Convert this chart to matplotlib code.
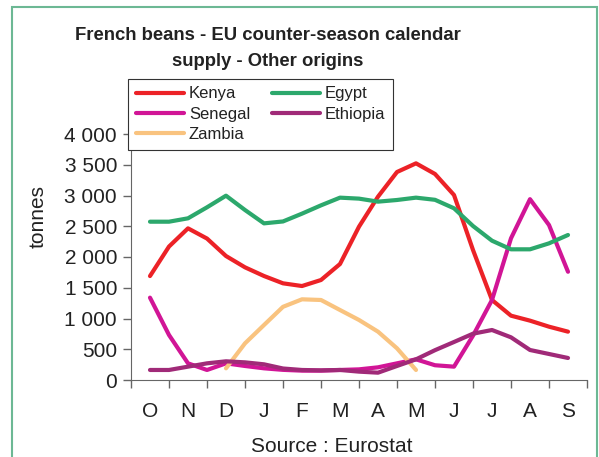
import matplotlib.pyplot as plt
from matplotlib.patches import Rectangle

plt.rcParams['font.family'] = ['Liberation Sans', 'DejaVu Sans']

# half-month positions, O centre = 0 ... S centre = 11
x_all = [i * 0.5 for i in range(23)]

months = ["O", "N", "D", "J", "F", "M", "A", "M", "J", "J", "A", "S"]

kenya = [1690, 2170, 2466, 2300, 2016, 1832, 1691, 1572, 1528, 1626, 1886, 2493,
         2981, 3382, 3523, 3350, 3008, 2114, 1301, 1046, 965, 867, 786]
egypt = [2574, 2574, 2629, 2808, 2997, 2764, 2547, 2578, 2705, 2840, 2965, 2949,
         2900, 2927, 2965, 2930, 2792, 2504, 2265, 2125, 2125, 2222, 2358]
senegal = [1339, 732, 271, 163, 271, 228, 190, 165, 152, 152, 163, 173,
           206, 271, 336, 240, 217, 721, 1301, 2304, 2940, 2520, 1760]
ethiopia = [163, 163, 217, 271, 304, 287, 255, 187, 163, 157, 163, 136,
            119, 228, 336, 485, 618, 753, 813, 694, 488, 423, 358]
# Zambia only from early December to early May
x_zambia = [2.0, 2.5, 3.0, 3.5, 4.0, 4.5, 5.0, 5.5, 6.0, 6.5, 7.0]
zambia = [190, 596, 894, 1190, 1312, 1301, 1138, 976, 786, 515, 163]

fig = plt.figure(figsize=(5.99, 4.57), dpi=100)
ax = fig.add_axes([131 / 599, 77 / 457, 456 / 599, 246 / 457])

lw = 3.0
ax.plot(x_all, kenya, color="#ec2227", lw=lw, label="Kenya", solid_capstyle="round")
ax.plot(x_all, senegal, color="#d11596", lw=lw, label="Senegal", solid_capstyle="round")
ax.plot(x_zambia, zambia, color="#f9c37f", lw=lw, label="Zambia", solid_capstyle="round")
ax.plot(x_all, egypt, color="#2ca86c", lw=lw, label="Egypt", solid_capstyle="round")
ax.plot(x_all, ethiopia, color="#a02a78", lw=lw, label="Ethiopia", solid_capstyle="round")

ax.set_xlim(-0.5, 11.5)
ax.set_ylim(0, 4000)
ax.set_yticks(range(0, 4001, 500))
ax.set_yticklabels(["0", "500", "1 000", "1 500", "2 000", "2 500", "3 000", "3 500", "4 000"])
ax.set_xticks(range(12))
ax.set_xticklabels(months)
ax.set_xticks([i - 0.5 for i in range(13)], minor=True)
ax.tick_params(axis="x", which="major", length=0, pad=16, labelsize=15, colors="#222222")
ax.tick_params(axis="x", which="minor", length=6, width=1, color="#666666")
ax.tick_params(axis="y", length=6, width=1, color="#666666", labelsize=15,
               labelcolor="#222222", pad=4)
ax.spines["top"].set_visible(False)
ax.spines["right"].set_visible(False)
ax.spines["left"].set_color("#666666")
ax.spines["bottom"].set_color("#666666")

ax.set_ylabel("tonnes", fontsize=15, color="#222222")
ax.yaxis.set_label_coords(-0.182, 0.663)

fig.text(268 / 599, 1 - 35 / 457, "French beans - EU counter-season calendar",
         ha="center", va="center", fontsize=13.3, fontweight="bold", color="#222222")
fig.text(268 / 599, 1 - 62 / 457, "supply - Other origins",
         ha="center", va="center", fontsize=13.3, fontweight="bold", color="#222222")

leg = fig.legend(loc="upper left", bbox_to_anchor=(128 / 599, 1 - 79 / 457), ncol=2,
                 fontsize=12, frameon=True, fancybox=False, framealpha=1,
                 edgecolor="#333333", handlelength=2.9, handletextpad=0.3,
                 columnspacing=1.3, labelspacing=0.32, borderpad=0.45,
                 borderaxespad=0)
leg.get_frame().set_linewidth(0.8)
for t in leg.get_texts():
    t.set_color("#222222")

fig.text(332 / 599, 1 - 447 / 457, "Source : Eurostat", ha="center", va="center",
         fontsize=15, color="#222222")

frame = Rectangle((11.5 / 599, -0.05), (597 - 11.5) / 599, 1.05 - 7 / 457,
                  transform=fig.transFigure, fill=False, edgecolor="#6cb894",
                  lw=1.5, clip_on=False)
fig.patches.append(frame)

fig.savefig("out.png", dpi=100)
